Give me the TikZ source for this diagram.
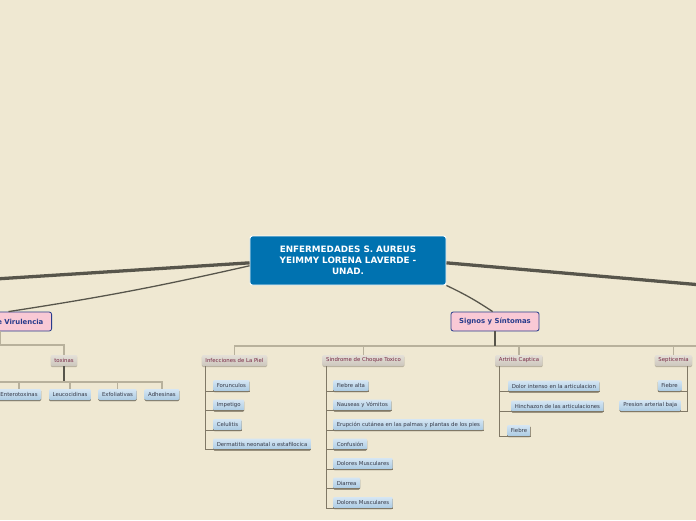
\documentclass[tikz,border=0pt]{standalone}
\usepackage{fontspec}
\setmainfont{DejaVu Sans}
\usetikzlibrary{shadows}
\definecolor{paper}{RGB}{239,232,210}
\definecolor{rootblue}{RGB}{0,114,176}
\definecolor{topicpink}{RGB}{249,201,213}
\definecolor{topicline}{RGB}{40,60,140}
\definecolor{grouptop}{RGB}{228,224,216}
\definecolor{groupbot}{RGB}{204,198,188}
\definecolor{grouptext}{RGB}{120,40,68}
\definecolor{leaftop}{RGB}{214,230,243}
\definecolor{leafbot}{RGB}{171,203,227}
\definecolor{leaftext}{RGB}{55,58,72}
\definecolor{trunkgrey}{RGB}{87,85,75}
\definecolor{busgrey}{RGB}{184,177,156}
\definecolor{twiggrey}{RGB}{128,120,102}
\tikzset{
  mapnode/.style = {shape=rectangle, align=center, rounded corners=1pt},
  root/.style    = {mapnode, draw=white, line width=0.8pt, fill=rootblue,
                    text=white, font=\fontsize{7.5}{9.3}\selectfont\bfseries,
                    minimum width=5.88cm, minimum height=1.47cm,
                    rounded corners=2pt},
  topic/.style   = {mapnode, draw=topicline, line width=0.7pt, fill=topicpink,
                    text=topicline, font=\fontsize{5.9}{7}\selectfont\bfseries,
                    minimum height=0.57cm, inner xsep=7pt, rounded corners=2pt},
  group/.style   = {mapnode, top color=grouptop, bottom color=groupbot,
                    text=grouptext, font=\fontsize{4.6}{5.5}\selectfont,
                    minimum height=0.33cm, inner xsep=3pt, inner ysep=0pt,
                    drop shadow={shadow xshift=0pt, shadow yshift=-0.9pt,
                                 fill=busgrey, opacity=1}},
  leaf/.style    = {group, top color=leaftop, bottom color=leafbot,
                    text=leaftext,
                    drop shadow={shadow xshift=0pt, shadow yshift=-0.9pt,
                                 fill=twiggrey, opacity=1}},
  trunk/.style   = {draw=trunkgrey, line width=2.8pt},
  limb/.style    = {draw=trunkgrey, line width=1.1pt},
  stem/.style    = {draw=trunkgrey, line width=1.5pt},
  bus/.style     = {draw=busgrey, line width=1.3pt},
  twig/.style    = {draw=twiggrey, line width=0.8pt}
}

\begin{document}
\begin{tikzpicture}[x=0.03cm, y=-0.03cm]
\useasboundingbox (0,0) rectangle (696,520);
\clip (0,0) rectangle (696,520);
\fill[paper] (0,0) rectangle (696,520);

% main topics
\node [root] (root) at (348,260.5)
  {ENFERMEDADES S. AUREUS\\YEIMMY LORENA LAVERDE -\\UNAD.};
\node [topic, anchor=east] (vir) at (52,321.5) {de Virulencia};
\node [topic] (sig) at (495,321.5) {Signos y Síntomas};

\coordinate (lt) at (-5,279);
\coordinate (rt) at (702,285);
\draw [trunk] ([yshift=-2pt]root.west) -- (lt);
\draw [trunk] ([yshift=-2pt]root.east) -- (rt);
\draw [limb] ([yshift=-4.5pt]root.west) to[bend left=2] ([xshift=-8pt]vir.north);
\draw [limb] (root.south east) to[bend left=4] ([xshift=-2pt]sig.north);

% virulencia
\node [group] (tox) at (64,360.5) {toxinas};
\coordinate (vj) at (0.5,345);
\draw [bus] (vj |- vir.south) -- (vj) -| (tox.north);
\coordinate (tj) at (64,382);
\coordinate (tl) at (-10,382);
\draw [stem] (tox.south) -- (tj);
\draw [bus] (tj) -- (tl);
\foreach \t/\x [count=\i] in {Enterotoxinas/19, Leucocidinas/70,
                              Exfoliativas/117.5, Adhesinas/162}
{
  \node [leaf] (tx\i) at (\x,394.5) {\t};
  \draw [bus] (tj) -| (tx\i.north);
}

% signos y sintomas
\node [group] (inf) at (234.5,360.5) {Infecciones de La Piel};
\node [group] (sind) at (363.5,360.5) {Sindrome de Choque Toxico};
\node [group] (art) at (519,360.5) {Artritis Captica};
\node [group] (sep) at (673.5,360.5) {Septicemia};
\coordinate (sj) at (495,346);
\coordinate (sr) at (710,346);
\draw [bus] (sj) -- (sr);
\foreach \g in {inf,sind,art,sep}
  \draw [bus] (sj) -| (\g.north);
\draw [stem] (sig.south) -- (sj);

\foreach \t [count=\i] in {Forunculos, Impetigo, Celulitis,
                           Dermatitis neonatal o estafilocica}
{
  \node [leaf, anchor=west] (ip\i) at (213,366+19.5*\i) {\t};
  \draw [twig] (inf.south west) ++(4,0) |- (ip\i.south east);
}

\foreach \t [count=\i] in {Fiebre alta, Nauseas y Vómitos,
    Erupción cutánea en las palmas y plantas de los pies, Confusión,
    Dolores Musculares, Diarrea, Dolores Musculares}
{
  \node [leaf, anchor=west] (sc\i) at (333,366+19.5*\i) {\t};
  \draw [twig] (sind.south west) ++(4,0) |- (sc\i.south east);
}

\node [leaf, anchor=west] (ar1) at (508,386) {Dolor intenso en la articulacion};
\node [leaf, anchor=west] (ar2) at (511,406) {Hinchazon de las articulaciones};
\node [leaf, anchor=west] (ar3) at (507,430.5) {Fiebre};
\foreach \i in {1,2,3}
  \draw [twig] (art.south west) ++(4,0) |- (ar\i.south east);

\node [leaf, anchor=east] (se1) at (681.5,385.5) {Fiebre};
\node [leaf, anchor=east] (se2) at (681,405.5) {Presion arterial baja};
\foreach \i in {1,2}
  \draw [twig] (sep.south east) ++(-5,0) |- (se\i.south west);
\end{tikzpicture}
\end{document}
